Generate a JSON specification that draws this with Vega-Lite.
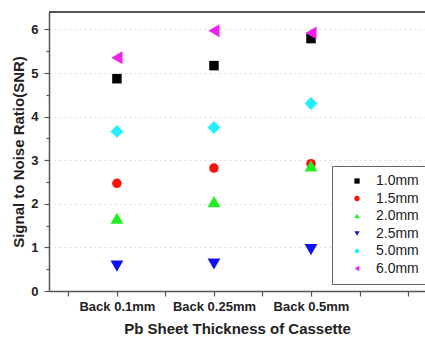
{
  "$schema": "https://vega.github.io/schema/vega-lite/v6.json",
  "width": 376,
  "height": 279,
  "autosize": "none",
  "padding": {"left": 49, "top": 12, "right": 0, "bottom": 49},
  "background": "white",
  "config": {
    "view": {"stroke": null},
    "font": "Liberation Sans",
    "axis": {"domainColor": "#555", "domainWidth": 1.5, "tickColor": "#555", "tickWidth": 1.2, "labelFont": "Liberation Sans", "labelFontWeight": "bold", "labelColor": "#222", "titleFont": "Liberation Sans", "titleFontWeight": "bold", "titleColor": "#222"},
    "legend": {"labelFont": "Liberation Sans", "labelFontSize": 14, "labelColor": "#222", "symbolSize": 28}
  },
  "data": {"values": [
    {"pos": 1, "series": "1.0mm", "snr": 4.87},
    {"pos": 1, "series": "1.5mm", "snr": 2.47},
    {"pos": 1, "series": "2.0mm", "snr": 1.67},
    {"pos": 1, "series": "2.5mm", "snr": 0.57},
    {"pos": 1, "series": "5.0mm", "snr": 3.66},
    {"pos": 1, "series": "6.0mm", "snr": 5.35},
    {"pos": 2, "series": "1.0mm", "snr": 5.17},
    {"pos": 2, "series": "1.5mm", "snr": 2.82},
    {"pos": 2, "series": "2.0mm", "snr": 2.05},
    {"pos": 2, "series": "2.5mm", "snr": 0.62},
    {"pos": 2, "series": "5.0mm", "snr": 3.75},
    {"pos": 2, "series": "6.0mm", "snr": 5.97},
    {"pos": 3, "series": "1.0mm", "snr": 5.79},
    {"pos": 3, "series": "1.5mm", "snr": 2.92},
    {"pos": 3, "series": "2.0mm", "snr": 2.87},
    {"pos": 3, "series": "2.5mm", "snr": 0.95},
    {"pos": 3, "series": "5.0mm", "snr": 4.3},
    {"pos": 3, "series": "6.0mm", "snr": 5.92}
  ]},
  "encoding": {
    "x": {
      "field": "pos", "type": "quantitative",
      "scale": {"domain": [0.3, 4.175], "nice": false, "zero": false},
      "axis": {
        "values": [0.5, 1, 1.5, 2, 2.5, 3, 3.5, 4],
        "labelExpr": "datum.value == 1 ? 'Back 0.1mm' : datum.value == 2 ? 'Back 0.25mm' : datum.value == 3 ? 'Back 0.5mm' : ''",
        "grid": false, "tickSize": 5, "labelFontSize": 13, "labelPadding": 4,
        "title": "Pb Sheet Thickness of Cassette", "titleFontSize": 15, "titlePadding": 8
      }
    },
    "y": {
      "field": "snr", "type": "quantitative",
      "scale": {"domain": [0, 6.4], "nice": false},
      "axis": {
        "values": [0, 0.5, 1, 1.5, 2, 2.5, 3, 3.5, 4, 4.5, 5, 5.5, 6],
        "labelExpr": "datum.value % 1 == 0 ? format(datum.value, 'd') : ''",
        "tickSize": {"condition": {"test": "datum.value % 1 != 0", "value": 3}, "value": 5},
        "gridColor": "#dcdcdc", "gridDash": [2, 3],
        "gridOpacity": {"condition": {"test": "datum.value % 1 != 0 || datum.value == 0", "value": 0}, "value": 1},
        "labelFontSize": 13, "labelPadding": 6,
        "title": "Signal to Noise Ratio(SNR)", "titleFontSize": 15, "titlePadding": 4
      }
    },
    "shape": {
      "field": "series", "type": "nominal",
      "scale": {"domain": ["1.0mm", "1.5mm", "2.0mm", "2.5mm", "5.0mm", "6.0mm"], "range": ["square", "circle", "triangle-up", "triangle-down", "diamond", "triangle-left"]},
      "legend": {"title": null, "orient": "none", "legendX": 283, "legendY": 154, "padding": 8, "strokeColor": "#666", "fillColor": "white", "rowPadding": 3.5, "symbolOffset": 10, "labelOffset": 12, "symbolSize": 28}
    },
    "color": {
      "field": "series", "type": "nominal",
      "scale": {"domain": ["1.0mm", "1.5mm", "2.0mm", "2.5mm", "5.0mm", "6.0mm"], "range": ["#000000", "#ff1010", "#22ee22", "#1010ee", "#22eeff", "#ee22ee"]},
      "legend": {"title": null, "orient": "none", "legendX": 283, "legendY": 154, "padding": 8, "strokeColor": "#666", "fillColor": "white", "rowPadding": 3.5, "symbolOffset": 10, "labelOffset": 12, "symbolSize": 28}
    }
  },
  "layer": [
    {
      "mark": {"type": "rule", "color": "#555", "strokeWidth": 1.5},
      "encoding": {"y": {"datum": 6.4, "type": "quantitative"}, "x": null, "shape": null, "color": null}
    },
    {
      "transform": [{"filter": "indexof(['1.0mm','1.5mm'], datum.series) >= 0"}],
      "mark": {"type": "point", "filled": true, "opacity": 1, "size": 90}
    },
    {
      "transform": [{"filter": "indexof(['2.0mm','2.5mm','5.0mm','6.0mm'], datum.series) >= 0"}],
      "mark": {"type": "point", "filled": true, "opacity": 1, "size": 165}
    }
  ]
}
